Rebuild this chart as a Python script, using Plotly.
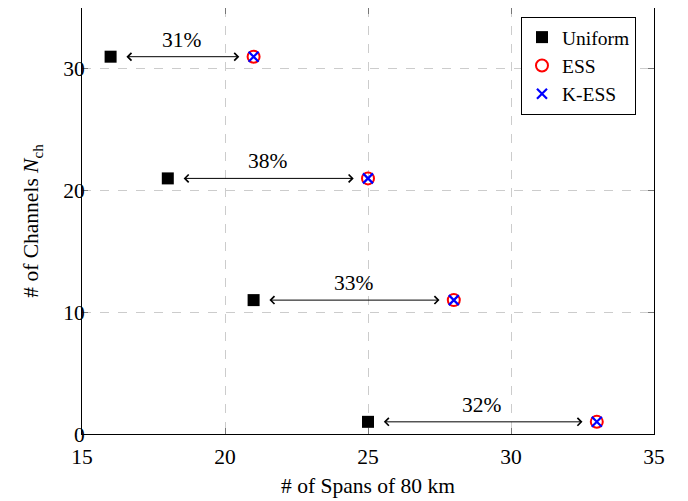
import plotly.graph_objects as go

channels = [31, 21, 11, 1]
uniform_spans = [16, 18, 21, 25]
ess_spans = [21, 25, 28, 33]
kess_spans = [21, 25, 28, 33]
gains = ["31%", "38%", "33%", "32%"]

FONT = "Liberation Serif"
FS = 21.5

fig = go.Figure()
fig.add_trace(go.Scatter(x=uniform_spans, y=channels, mode="markers", name="Uniform",
                         marker=dict(symbol="square", size=12, color="black")))
fig.add_trace(go.Scatter(x=ess_spans, y=channels, mode="markers", name="ESS",
                         marker=dict(symbol="circle-open", size=12, color="red", line=dict(width=2))))
fig.add_trace(go.Scatter(x=kess_spans, y=channels, mode="markers", name="K-ESS",
                         marker=dict(symbol="x-thin-open", size=10, color="blue", line=dict(width=2.2, color="blue"))))

for u, e, c, g in zip(uniform_spans, ess_spans, channels, gains):
    fig.add_annotation(x=e - 0.5, y=c, ax=u + 0.5, ay=c, xref="x", yref="y", axref="x", ayref="y",
                       text="", showarrow=True, arrowhead=4, startarrowhead=4, arrowside="end+start",
                       arrowsize=1.5, startarrowsize=1.5, arrowwidth=1, arrowcolor="black")
    fig.add_annotation(x=(u + e) / 2, y=c, xref="x", yref="y", text=g, showarrow=False,
                       yshift=17, font=dict(size=FS, color="black", family=FONT))

axis_common = dict(showline=True, linecolor="black", linewidth=1, mirror="ticks", ticks="inside",
                   ticklen=6, tickcolor="#777", showgrid=True, gridcolor="#ccc", griddash="dash",
                   gridwidth=1, zeroline=False, tickfont=dict(size=FS, color="black", family=FONT))

fig.update_xaxes(range=[15, 35], tickvals=[15, 20, 25, 30, 35], ticklabelstandoff=3,
                 title=dict(text="# of Spans of 80 km", font=dict(size=FS, color="black", family=FONT), standoff=10),
                 **axis_common)
fig.update_yaxes(range=[0, 35], tickvals=[0, 10, 20, 30], ticklabelstandoff=-8,
                 title=dict(text="# of Channels <i>N</i><sub>ch</sub>", font=dict(size=FS, color="black", family=FONT), standoff=18),
                 **axis_common)

fig.update_layout(
    width=688, height=501, plot_bgcolor="white", paper_bgcolor="white",
    margin=dict(l=74, r=42, t=0, b=75),
    font=dict(family=FONT, color="black"),
    legend=dict(x=0.9685, y=0.979, xanchor="right", yanchor="top", bordercolor="black", borderwidth=1,
                bgcolor="white", font=dict(size=19.5, family=FONT), itemwidth=30, tracegroupgap=0),
    showlegend=True,
)

fig.write_html("out.html")
